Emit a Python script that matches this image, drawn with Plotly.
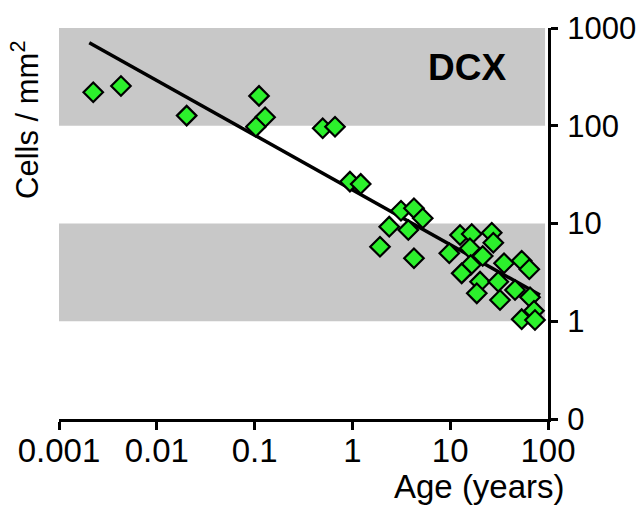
import plotly.graph_objects as go

# Data
age_years = [0.00224, 0.0043, 0.0202, 0.111, 0.128, 0.103, 0.497, 0.664, 0.944, 1.216,
             1.915, 2.38, 3.14, 3.73, 4.26, 4.26, 5.24, 9.79, 12.6, 16.6,
             26.6, 27.6, 15.9, 21.5, 16.2, 13.1, 35.5, 53.8, 64.4, 20.2,
             31.0, 46.0, 18.7, 32.3, 65.5, 71.9, 53.8, 73.6]
cells_per_mm2 = [220, 255, 127, 202, 122, 97.8, 94.2, 97.8, 26.8, 25.4,
                 5.79, 9.28, 13.5, 8.58, 14.3, 4.41, 11.3, 4.96, 7.63, 7.82,
                 8.05, 6.36, 5.57, 4.65, 3.76, 3.09, 3.92, 4.16, 3.40, 2.54,
                 2.54, 2.09, 1.93, 1.65, 1.76, 1.28, 1.05, 1.03]
fit_age = [0.00204, 82.8]
fit_cells = [708, 1.86]

x_tickvals = [0.001, 0.01, 0.1, 1, 10, 100]
x_ticktext = ["0.001", "0.01", "0.1", "1", "10", "100"]
y_tickvals = [0.1, 1, 10, 100, 1000]
y_ticktext = ["0", "1", "10", "100", "1000"]
band_ranges = [(100, 1000), (1, 10)]

FONT = "Liberation Sans, Arial, Helvetica, sans-serif"

fig = go.Figure()
fig.add_trace(go.Scatter(x=fit_age, y=fit_cells, mode="lines",
                         line=dict(color="black", width=3.5), showlegend=False,
                         hoverinfo="skip"))
fig.add_trace(go.Scatter(x=age_years, y=cells_per_mm2, mode="markers",
                         marker=dict(symbol="diamond", size=15, color="#2cf02c",
                                     line=dict(color="black", width=2.2)),
                         showlegend=False))

for lo, hi in band_ranges:
    fig.add_shape(type="rect", xref="paper", yref="y", x0=0, x1=0.994,
                  y0=lo, y1=hi, fillcolor="#c8c8c8", line=dict(width=0),
                  layer="below")

fig.add_annotation(text="<b>DCX</b>", xref="paper", yref="paper",
                   x=(467 - 59) / 489, y=(419 - 67) / 391, showarrow=False,
                   font=dict(family=FONT, size=37, color="black"),
                   xanchor="center", yanchor="middle")
fig.add_annotation(text="Age (years)", xref="paper", yref="paper",
                   x=(567 - 59) / 489, y=(419 - 487) / 391, showarrow=False,
                   font=dict(family=FONT, size=33, color="black"),
                   xanchor="right", yanchor="middle")
fig.add_annotation(text="Cells / mm<sup>2</sup>", xref="paper", yref="paper",
                   x=(25 - 59) / 489, y=(419 - 120) / 391, showarrow=False,
                   textangle=-90,
                   font=dict(family=FONT, size=31, color="black"),
                   xanchor="center", yanchor="middle")

fig.update_xaxes(type="log", range=[-3, 2], tickvals=x_tickvals, ticktext=x_ticktext,
                 showline=True, linecolor="black", linewidth=3,
                 ticks="outside", ticklen=8, tickwidth=3, tickcolor="black",
                 ticklabelstandoff=-8,
                 showgrid=False, zeroline=False, automargin=False,
                 tickfont=dict(family=FONT, size=33, color="black"))
fig.update_yaxes(type="log", range=[-1, 3], tickvals=y_tickvals, ticktext=y_ticktext,
                 side="right", showline=True, linecolor="black", linewidth=3,
                 ticks="outside", ticklen=7, tickwidth=3, tickcolor="black",
                 ticklabelstandoff=3,
                 showgrid=False, zeroline=False, automargin=False,
                 tickfont=dict(family=FONT, size=31, color="black"))

fig.update_layout(width=638, height=505,
                  margin=dict(l=59, r=90, t=28, b=86),
                  plot_bgcolor="white", paper_bgcolor="white",
                  font=dict(family=FONT, color="black"))

fig.write_html("out.html", config={"displayModeBar": False},
               post_script="document.body.style.margin='0';document.body.style.padding='0';")
